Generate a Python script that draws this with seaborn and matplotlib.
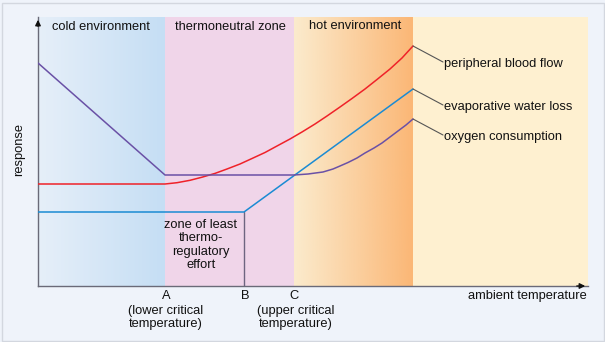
import numpy as np
import pandas as pd
import matplotlib
matplotlib.use('Agg')
import matplotlib.pyplot as plt
from matplotlib.colors import LinearSegmentedColormap
from matplotlib.patches import Rectangle
import seaborn as sns

# zone boundaries on the temperature axis (arbitrary units)
x_A = 127
x_B = 206
x_C = 256
x_hot_end = 375
x_max = 550
y_max = 269

# peripheral blood flow
blood_x = [0, 127, 139, 152, 164, 177, 189, 202, 214, 227, 239, 252, 264, 277,
           289, 302, 314, 327, 339, 352, 364, 375]
blood_y = [102, 102, 103.3, 105.7, 108.8, 112.6, 117, 122, 127.5, 133.5, 140, 147, 154, 162,
           170, 179, 187.5, 197, 206.5, 217, 228, 240]
# evaporative water loss
water_x = [0, 206, 375]
water_y = [74, 74, 197]
# oxygen consumption
oxy_x = [0, 127, 256, 270, 285, 295, 302, 310, 319, 327, 336, 344, 352, 360, 368, 375]
oxy_y = [223, 111, 111, 112, 114, 117, 120, 123.5, 128, 133, 138, 143, 149, 155, 161, 167]

zone_labels = ['cold environment', 'thermoneutral zone', 'hot environment']
curve_labels = ['peripheral blood flow', 'evaporative water loss', 'oxygen consumption']

sns.set_theme(style='white')
plt.rcParams['font.family'] = ['Liberation Sans', 'DejaVu Sans']
FS = 9.3

fig = plt.figure(figsize=(6.05, 3.42), dpi=100)
fig.patch.set_facecolor('#eff3fa')
ax = fig.add_axes([38/605, 1-286/342, 550/605, 269/342])

# background zones
cold = LinearSegmentedColormap.from_list('cold', ['#e6eff9', '#c5def4'])
hot = LinearSegmentedColormap.from_list('hot', ['#fbebcd', '#fbb776'])
grad = np.linspace(0, 1, 256).reshape(1, -1)
ax.imshow(grad, cmap=cold, extent=[0, x_A, 0, y_max], aspect='auto', zorder=0)
ax.add_patch(Rectangle((x_A, 0), x_C - x_A, y_max, color='#f0d5e9', lw=0, zorder=0))
ax.imshow(grad, cmap=hot, extent=[x_C, x_hot_end, 0, y_max], aspect='auto', zorder=0)
ax.add_patch(Rectangle((x_hot_end, 0), x_max - x_hot_end, y_max, color='#fef0d0', lw=0, zorder=0))
ax.set_xlim(0, x_max)
ax.set_ylim(0, y_max)

df_blood = pd.DataFrame({'x': blood_x, 'y': blood_y})
df_water = pd.DataFrame({'x': water_x, 'y': water_y})
df_oxy = pd.DataFrame({'x': oxy_x, 'y': oxy_y})
sns.lineplot(data=df_blood, x='x', y='y', color='#ef2229', lw=1.1, ax=ax, zorder=3)
sns.lineplot(data=df_water, x='x', y='y', color='#1b8bd3', lw=1.1, ax=ax, zorder=3)
sns.lineplot(data=df_oxy, x='x', y='y', color='#6a51a6', lw=1.1, ax=ax, zorder=3)

# line at B
ax.plot([x_B, x_B], [0, water_y[1]], color='#6e6580', lw=1, zorder=2)

# leader lines and curve labels
ends = [blood_y[-1], water_y[-1], oxy_y[-1]]
label_y = [222, 179, 149]
for e, ly, lab in zip(ends, label_y, curve_labels):
    ax.plot([x_hot_end, 405], [e, ly + 2], color='#555555', lw=0.8, zorder=3)
    ax.text(406, ly, lab, fontsize=FS, va='center', ha='left', color='#111111')

# zone titles
ax.text(63, 259, zone_labels[0], fontsize=FS, ha='center', va='center', color='#111111')
ax.text(192, 259, zone_labels[1], fontsize=FS, ha='center', va='center', color='#111111')
ax.text(317, 260, zone_labels[2], fontsize=FS, ha='center', va='center', color='#111111')
ax.text(163, 41, 'zone of least\nthermo-\nregulatory\neffort', fontsize=FS,
        ha='center', va='center', color='#111111', linespacing=1.15)

ax.set_xticks([])
ax.set_yticks([])
for s in ['top', 'right']:
    ax.spines[s].set_visible(False)
for s in ['left', 'bottom']:
    ax.spines[s].set_color('#6a6a78')
    ax.spines[s].set_linewidth(1)
ax.set_xlabel('')
ax.set_ylabel('')

# axis arrows
ax.annotate('', xy=(0, y_max), xytext=(0, y_max - 12),
            arrowprops=dict(arrowstyle='-|>', color='#111111', lw=1, mutation_scale=8),
            annotation_clip=False)
ax.annotate('', xy=(x_max, 0), xytext=(x_max - 14, 0),
            arrowprops=dict(arrowstyle='-|>', color='#111111', lw=1, mutation_scale=8),
            annotation_clip=False)

# axis texts (figure pixel coordinates)
def ftext(px, py, s, **kw):
    fig.text(px/605, 1 - py/342, s, fontsize=FS, color='#111111', **kw)

ftext(166, 296, 'A', ha='center', va='center')
ftext(166, 317.5, '(lower critical\ntemperature)', ha='center', va='center', linespacing=1.15)
ftext(245, 296, 'B', ha='center', va='center')
ftext(294, 296, 'C', ha='center', va='center')
ftext(296, 317.5, '(upper critical\ntemperature)', ha='center', va='center', linespacing=1.15)
ftext(587, 296, 'ambient temperature', ha='right', va='center')
ftext(19, 150, 'response', ha='center', va='center', rotation=90)

# outer frame
fig.add_artist(Rectangle((1.5/605, 1.5/342), 602/605, 338/342, transform=fig.transFigure,
                         fill=False, edgecolor='#d3d7df', lw=1))

fig.savefig('out.png', dpi=100, facecolor=fig.get_facecolor())
